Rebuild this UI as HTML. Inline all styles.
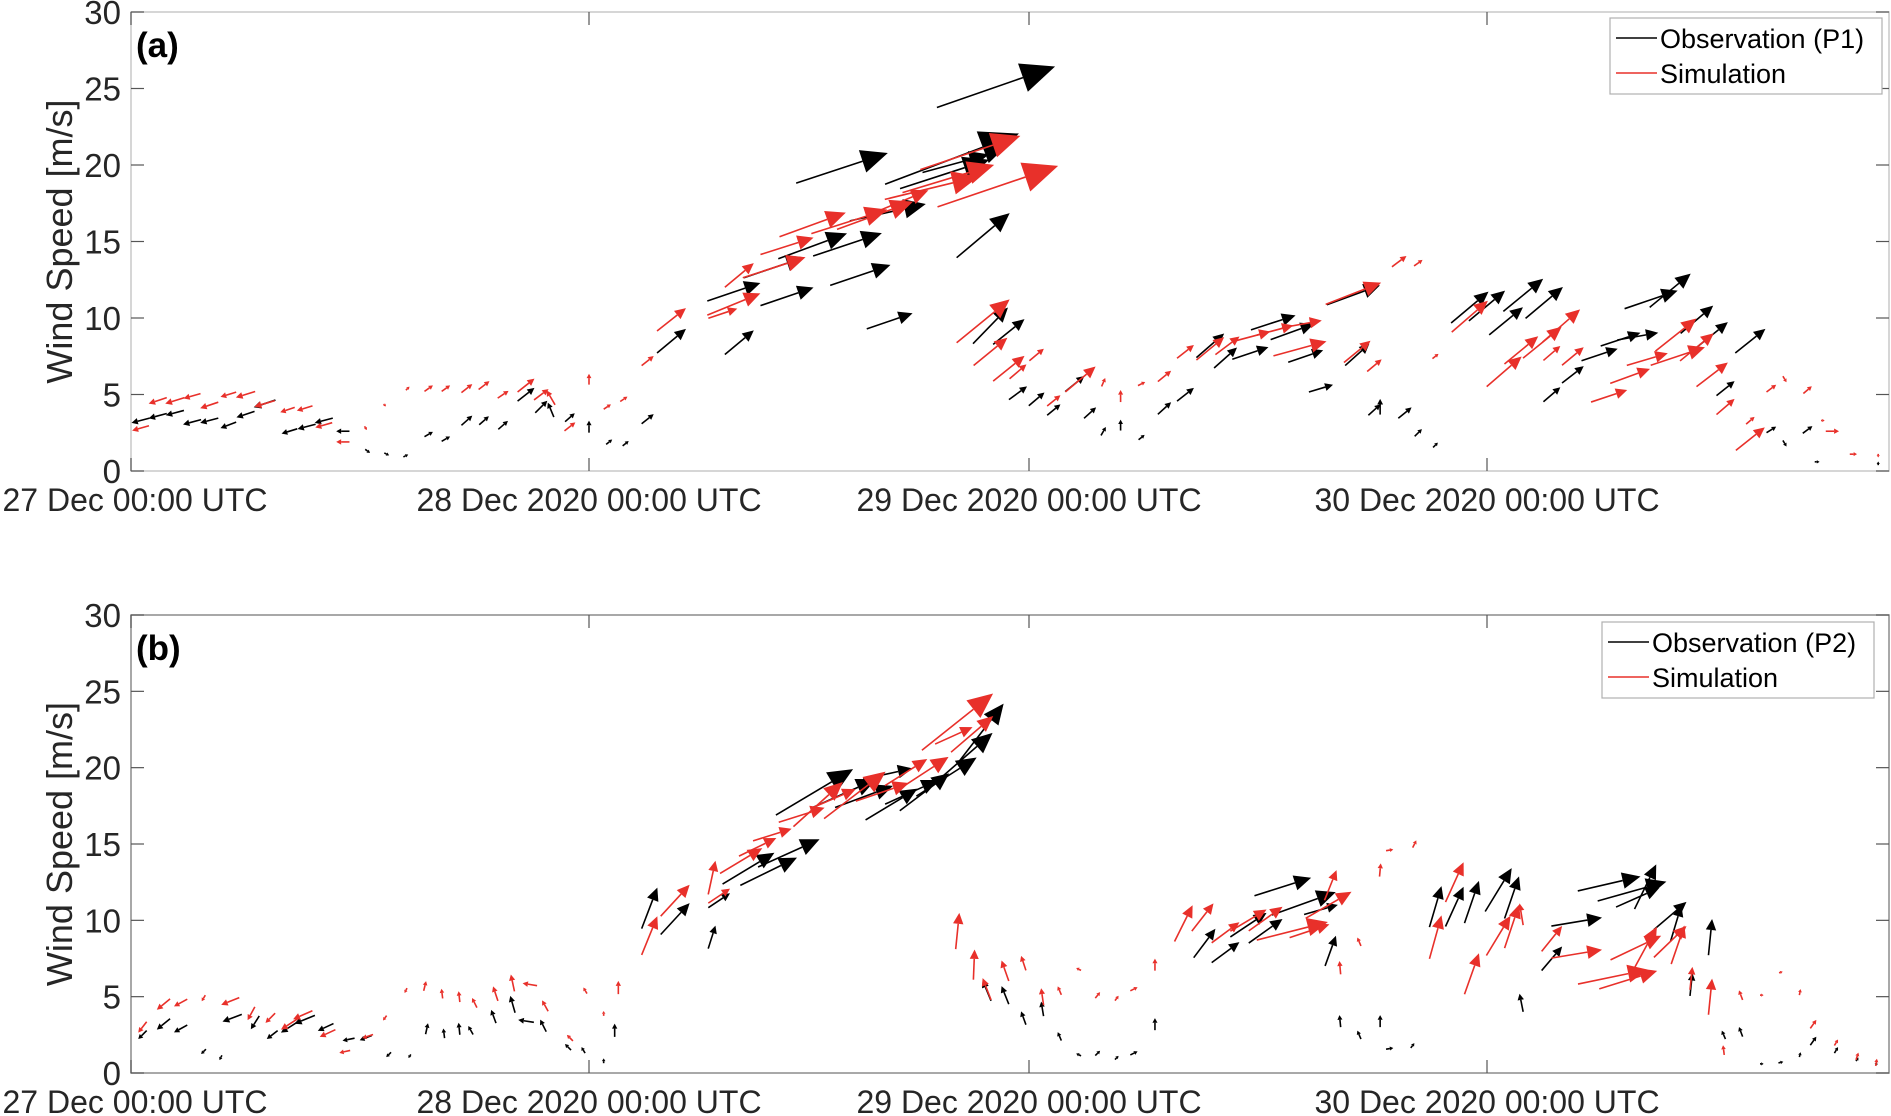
<!DOCTYPE html>
<html><head><meta charset="utf-8"><style>
body{margin:0;background:#fff;}
svg{display:block;font-family:"Liberation Sans",sans-serif;}
</style></head><body>
<svg id="chart" width="1891" height="1116" viewBox="0 0 1891 1116" xmlns="http://www.w3.org/2000/svg"></svg>
<script>
// ---- Panel (a) observation P1: hour since 27 Dec 00 UTC, speed, u, v ----
const aObsHour=[0.5,1.4,2.3,3.2,4.1,5.1,6,7,8.3,9.2,10.1,11.1,12.4,13.4,14.4,15.6,16.5,17.6,18.5,19.5,20.7,21.5,22.0,23,24,25.1,26,27.2,28.5,
37.8,46.2,43.8,44,43.4,40.3,38.1,36.2,34.1,31.9,34.8,38.8,40.4,32.2,45.5,45.9,46.9,47.4,48.4,49.3,51.2,51.9,52.8,53.9,55.1,56.2,50.4,57.5,58.3,59.6,60.8,61.8,62.5,63.3,65,65.2,66.1,66.4,
67.7,68.4,69.3,71.1,72,73.9,73,75,75.4,76.5,77.9,79,79.9,80.6,81.6,83,83.8,85.8,84.5,86.9,87.6,88.8,89.3,92.5];
const aObsSpeed=[3.3,3.6,3.8,3.2,3.3,3.0,3.7,4.4,2.6,2.9,3.3,2.6,1.3,1.1,1.0,2.4,2.1,3.3,3.3,3.0,5.0,4.2,4.0,3.5,2.9,1.9,1.8,3.4,8.5,
19.8,25.1,20.4,20.1,19.4,16.9,14.8,14.7,13.3,11.7,11.4,12.8,9.8,8.4,15.4,9.5,9.1,5.1,4.7,4.0,3.8,2.6,3.0,2.2,4.1,5.0,5.7,8.2,7.4,7.7,9.7,9.1,7.5,5.4,11.5,7.6,4.0,4.2,
3.8,2.5,1.7,10.7,10.8,11.5,9.8,11,5.0,6.3,7.6,8.6,8.8,11.2,11.8,9.9,8.9,8.5,5.4,2.7,1.8,2.7,0.6,0.5];
const aObsU=[-15,-15,-15,-15,-15,-13,-15,-18,-13,-15,-15,-11,4,4,4,7,7,9,8,8,14,10,-5,8,0,5,5,10,24,
76,98,111,55,74,63,57,57,50,44,44,50,38,24,44,29,26,15,13,11,10,4,0,5,11,14,16,23,19,30,37,36,29,20,44,20,10,0,
11,6,4,31,30,33,28,31,14,18,30,33,34,44,34,27,26,25,15,8,3,8,4,0];
const aObsV=[-4,-4,-4,-4,-4,-5,-5,-6,-4,-4,-4,0,-3,-2,2,4,4,8,7,7,11,10,12,7,10,4,4,8,20,
25,34,42,15,24,14,19,21,17,15,15,17,13,20,37,30,21,11,11,9,9,7,9,4,10,11,13,20,17,10,12,13,10,6,16,18,9,13,
9,6,4,26,25,27,23,26,12,14,10,11,6,15,28,23,21,20,12,5,-5,6,0,3];
// ---- Panel (a) simulation ----
const aSimHour=[0.5,1.4,2.3,3.2,4.1,5.1,6,7,8.2,9.1,10.1,11.1,12.3,13.3,14.5,15.6,16.5,17.6,18.5,19.5,20.7,21.5,22.0,23,24,25,25.9,27.2,28.5,
36.2,34.8,38.2,39.6,41,42.7,43.6,44.8,46.3,34.1,32.2,31.3,31.9,45.5,45.9,46.9,47.4,48.4,49.3,50.7,51.9,52.8,53.9,55.1,56.2,57.5,58.4,59.7,60.9,62.2,62.3,65,65.2,66.1,
67.4,68.4,69.3,71.1,72.9,73.8,74.9,75.9,75.4,76.5,78.4,79.5,80.4,82,81.9,83,83.8,84.5,85.8,85.8,86.9,87.6,88.8,90.1,89.6,91.2,92.5,93.3];
const aSimSpeed=[2.8,4.6,4.6,4.9,4.3,5.0,5.0,4.4,4.0,4.1,3.0,1.9,2.8,4.3,5.4,5.4,5.4,5.4,5.6,5.0,5.6,5.0,4.8,2.9,6.0,4.2,4.7,7.2,9.9,
16.1,14.7,16.3,16.7,17.6,18.5,19.1,20.8,18.6,13.3,12.8,10.3,10.9,9.8,7.8,6.7,6.5,7.6,4.6,6.0,5.8,4.9,5.7,6.2,7.8,8.0,8.2,8.8,9.2,8.0,9.6,11.6,7.8,6.9,
13.7,13.6,7.5,10.1,6.5,7.9,8.4,9.5,7.7,7.5,4.9,6.2,7.3,7.5,8.9,8.1,6.3,4.2,2.1,3.3,5.4,6.0,5.3,2.6,3.3,1.1,1.0,1.0];
const aSimU=[-14,-15,-16,-14,-15,-13,-16,-17,-12,-13,-14,-11,2,2,3,7,7,9,9,9,14,12,-7,9,0,6,6,10,24,
55,44,63,63,46,78,76,83,100,52,24,24,44,44,28,26,14,12,11,25,3,0,6,11,14,23,20,30,30,44,33,46,22,12,
12,7,5,30,29,28,32,31,14,18,30,33,34,45,34,28,26,15,24,7,8,3,7,11,3,6,0,3];
const aSimV=[-4,-5,-5,-4,-5,-4,-5,-5,-4,-4,-4,0,-3,-2,3,5,5,7,7,6,11,9,12,7,9,4,4,8,19,
20,14,20,23,19,19,23,28,34,17,20,8,18,36,23,21,12,10,9,21,7,10,3,9,11,19,15,8,8,12,6,18,18,10,
9,5,4,26,25,23,26,27,12,15,10,12,10,15,27,23,20,13,19,6,6,-5,6,0,0,0,-3,3];
// ---- Panel (b) observation P2 ----
const bObsHour=[0.6,1.7,2.6,3.8,4.7,5.3,6.5,7.4,8.3,9.1,10.2,11.4,12.3,13.5,14.6,15.5,16.4,17.2,17.8,19.0,20.0,20.7,21.6,22.9,23.7,24.8,25.4,27.3,28.7,
30.7,31.1,32.7,33.8,34.9,36.3,37.9,39.0,40.5,41.6,42.3,43.5,44.5,45.4,40.3,45.7,46.7,47.7,48.7,49.6,50.6,51.6,52.6,53.5,54.6,57.2,58.3,59.5,60.4,61.3,62.4,63.3,63.8,64.3,65.3,66.4,66.9,
68.1,69.3,70.3,71.2,72.6,73.3,73.8,75.4,76.7,78.4,79.6,79.9,80.3,81.6,81.9,83.7,82.7,84.4,85.3,86.4,87.4,88.4,89.1,90.3,91.4,92.4];
const bObsSpeed=[2.5,3.2,2.9,1.4,1.0,3.6,3.3,2.5,3.0,3.5,3.0,2.2,2.3,1.2,1.1,2.9,2.6,2.9,2.8,3.7,4.5,3.4,3.1,1.7,1.5,0.8,2.8,10.8,10.1,
8.9,11.3,13.4,13.2,14.4,18.4,18.3,18.1,17.6,18.4,18.4,19.4,20.7,22.3,19.6,5.4,5.1,3.6,4.2,2.4,1.2,1.3,1.0,1.3,3.2,8.5,7.9,9.7,9.3,12.2,11.1,10.7,8.0,3.4,2.5,3.4,1.6,
1.8,10.9,10.9,11.2,12.0,11.5,4.6,7.5,9.9,12.4,11.9,11.5,12.2,10.3,9.8,8.9,5.8,2.5,2.7,0.6,0.7,1.2,2.1,1.5,0.9,0.6];
const bObsU=[-7,-11,-11,-4,-2,-16,-7,-9,-14,-17,-13,-10,-10,-4,-2,2,-1,-1,-4,-4,-4,-13,-5,-5,-3,0,0,13,24,
6,18,43,47,51,64,54,48,43,44,41,50,46,37,41,-7,-6,-4,-2,-3,-4,4,3,6,0,18,23,30,28,47,53,28,9,-1,-3,0,6,
3,10,15,12,22,12,-3,17,42,52,57,36,18,27,9,3,2,-3,-3,3,4,1,5,3,2,1];
const bObsV=[-7,-9,-6,-4,-4,-6,-11,-7,-9,-7,-6,-2,-4,-4,-3,9,8,10,7,11,14,2,10,5,5,4,11,34,26,
19,12,26,23,23,38,24,18,26,20,31,32,40,48,9,17,15,11,12,7,2,4,3,3,10,24,17,20,20,15,19,8,25,10,7,10,1,
4,34,33,35,36,35,15,20,7,12,16,16,37,23,30,30,19,7,8,0,1,4,7,5,3,3];
// ---- Panel (b) simulation ----
const bSimHour=[0.6,1.7,2.6,3.8,5.2,6.3,7.3,8.3,9.0,10.3,11.2,12.4,13.3,14.4,15.4,16.3,17.2,18.0,19.1,20.0,20.9,21.7,23.0,23.8,24.8,25.6,27.3,28.7,
30.7,31.1,32.3,33.2,34.0,35.6,36.5,38.5,37.4,40,41.3,42.2,44.1,43.9,44.9,44.1,45.0,45.7,46.7,47.7,48.7,49.6,50.6,51.6,52.6,53.5,54.6,56.1,57.1,58.3,59.5,60.4,61.8,62.7,63.7,63.8,65.3,64.3,66.4,66.9,
68.2,69.3,70.3,71.2,72.6,73.3,73.8,75.4,76.7,78.6,79.4,79.8,80.3,81.6,82.0,83.7,82.7,84.4,85.3,86.4,87.4,88.4,89.1,90.3,91.4,92.4,93.3];
const bSimSpeed=[3.0,4.5,4.6,4.9,4.7,3.9,3.6,3.2,3.8,2.6,1.4,2.4,3.6,5.4,5.7,5.2,5.0,4.6,5.2,5.9,5.8,4.4,2.3,5.4,3.9,5.6,9.0,11.3,
12.8,11.6,13.9,14.8,15.6,16.9,17.6,18.2,18.0,18.4,19.7,19.6,23.0,22.1,22.2,9.3,7.1,5.5,6.7,7.2,5.0,5.4,6.8,5.1,4.9,5.5,7.1,9.8,10.2,9.2,10.0,10.1,9.3,9.3,11.0,12.3,8.6,6.9,13.3,14.6,
15.0,8.9,12.5,6.5,9.0,9.6,10.4,8.8,7.8,6.3,6.1,8.2,8.2,8.6,8.4,5.0,6.2,1.5,5.1,5.1,6.6,5.3,3.2,2.0,1.1,0.7,0.5];
const bSimU=[-7,-11,-11,-3,-15,-6,-8,-14,-16,-13,-9,-9,-3,-2,2,-1,-1,-4,-4,-3,-12,-5,-5,-3,0,0,13,24,
6,18,35,31,32,38,41,51,35,44,35,43,59,31,35,3,1,-7,-6,-4,-2,-3,-4,4,3,6,0,15,18,23,30,28,59,33,38,10,-3,-1,1,6,
3,10,15,12,20,12,-3,17,42,58,48,42,19,27,11,3,2,-1,-3,3,3,1,5,3,2,1,2];
const bSimV=[-9,-9,-6,-5,-6,-11,-8,-9,-7,-6,-2,-3,-4,-4,8,8,9,8,12,14,2,9,5,5,4,11,32,26,
28,12,21,15,10,12,37,39,15,15,22,28,47,14,30,30,25,18,17,12,14,7,2,5,4,3,10,30,23,17,18,20,15,11,22,25,7,11,11,1,
6,36,33,34,33,36,18,21,7,12,15,20,35,26,32,30,19,8,8,0,1,5,7,5,6,6,3];

const tickHours=[0,24,48,72];
const tickLabels=["27 Dec 00:00 UTC","28 Dec 2020 00:00 UTC","29 Dec 2020 00:00 UTC","30 Dec 2020 00:00 UTC"];
const yTicks=[0,5,10,15,20,25,30];

const NS="http://www.w3.org/2000/svg";
const svg=document.getElementById('chart');
const X0=131,X1=1889,VS=1.206;
// axis anchor pixels for day ticks (layout, not data)
const anchorPx=[131,589,1029,1487];
function xS(h){
  let i=Math.min(2,Math.max(0,Math.floor(h/24)));
  const h0=tickHours[i],h1=tickHours[i+1];
  return anchorPx[i]+(h-h0)*(anchorPx[i+1]-anchorPx[i])/(h1-h0);
}
function mk(tag,attrs,parent){const e=document.createElementNS(NS,tag);for(const k in attrs)e.setAttribute(k,attrs[k]);parent.appendChild(e);return e;}

function panel(id,top,bot,boxColor,label,legendTitle,legX,legY,obs,sim){
  const g=mk('g',{},svg);
  
  
  const yS=v=>bot-(v/30)*(bot-top);
  const box=mk('rect',{x:X0,y:top,width:X1-X0,height:bot-top,fill:'none',stroke:boxColor,'stroke-width':1.5},g);
  
  
  yTicks.forEach(t=>{
    const y=yS(t);
    const tl=mk('line',{x1:X0,x2:X0+13,y1:y,y2:y,stroke:'#555','stroke-width':1.2},g);
    
    
    mk('line',{x1:X1-13,x2:X1,y1:y,y2:y,stroke:'#555','stroke-width':1.2},g);
    const tx=mk('text',{x:X0-10,y:y+12,'text-anchor':'end','font-size':33,fill:'#262626'},g);
    tx.textContent=t;
    
    
  });
  tickHours.forEach((h,i)=>{
    const x=xS(h);
    mk('line',{x1:x,x2:x,y1:bot,y2:bot-13,stroke:'#555','stroke-width':1.2},g);
    mk('line',{x1:x,x2:x,y1:top,y2:top+13,stroke:'#555','stroke-width':1.2},g);
    const tx=mk('text',{x:Math.max(x,135),y:bot+40,'text-anchor':'middle','font-size':32,fill:'#262626'},g);
    tx.textContent=tickLabels[i];
    
    
  });
  const yl=mk('text',{x:0,y:0,'text-anchor':'middle','font-size':36,fill:'#262626',transform:`translate(72,${(top+bot)/2}) rotate(-90)`},g);
  yl.textContent='Wind Speed [m/s]';
  
  
  const pl=mk('text',{x:136,y:top+45,'font-size':35,'font-weight':'bold',fill:'#000'},g);
  pl.textContent=label;
  
  
  function series(d,color,name){
    const sg=mk('g',{},g);
    
    
    for(let i=0;i<d[0].length;i++){
      const cx=xS(d[0][i]),cy=yS(d[1][i]);
      const dx=d[2][i]*VS,dy=-d[3][i]*VS;
      const L=Math.hypot(dx,dy);if(L<0.5)continue;
      const x0=cx-dx/2,y0=cy-dy/2,x1=cx+dx/2,y1=cy+dy/2;
      const ux=dx/L,uy=dy/L;
      const hl=0.26*L+1.5,hw=0.11*L+1.2;
      const bx=x1-ux*hl,by=y1-uy*hl;
      const a=mk('g',{},sg);
      
      
      mk('line',{x1:x0,y1:y0,x2:bx,y2:by,stroke:color,'stroke-width':1.6},a);
      mk('polygon',{points:`${x1},${y1} ${bx-uy*hw},${by+ux*hw} ${bx+uy*hw},${by-ux*hw}`,fill:color},a);
    }
  }
  series(obs,'#000','observation-arrows-'+id);
  series(sim,'#e8302a','simulation-arrows-'+id);
  const lg=mk('g',{},g);
  
  
  mk('rect',{x:legX,y:legY,width:272,height:76,fill:'#fff',stroke:'#b0b0b0','stroke-width':1.2},lg);
  mk('line',{x1:legX+6,x2:legX+47,y1:legY+20,y2:legY+20,stroke:'#000','stroke-width':1.5},lg);
  mk('line',{x1:legX+6,x2:legX+47,y1:legY+55,y2:legY+55,stroke:'#e8302a','stroke-width':1.5},lg);
  const t1=mk('text',{x:legX+50,y:legY+30,'font-size':27,fill:'#000'},lg);t1.textContent=legendTitle;
  
  
  const t2=mk('text',{x:legX+50,y:legY+65,'font-size':27,fill:'#000'},lg);t2.textContent='Simulation';
  
  
}
panel('a',12,471,'#c8c8c8','(a)','Observation (P1)',1610,18,[aObsHour,aObsSpeed,aObsU,aObsV],[aSimHour,aSimSpeed,aSimU,aSimV]);
panel('b',615,1073,'#8c8c8c','(b)','Observation (P2)',1602,622,[bObsHour,bObsSpeed,bObsU,bObsV],[bSimHour,bSimSpeed,bSimU,bSimV]);
</script>
</body></html>
